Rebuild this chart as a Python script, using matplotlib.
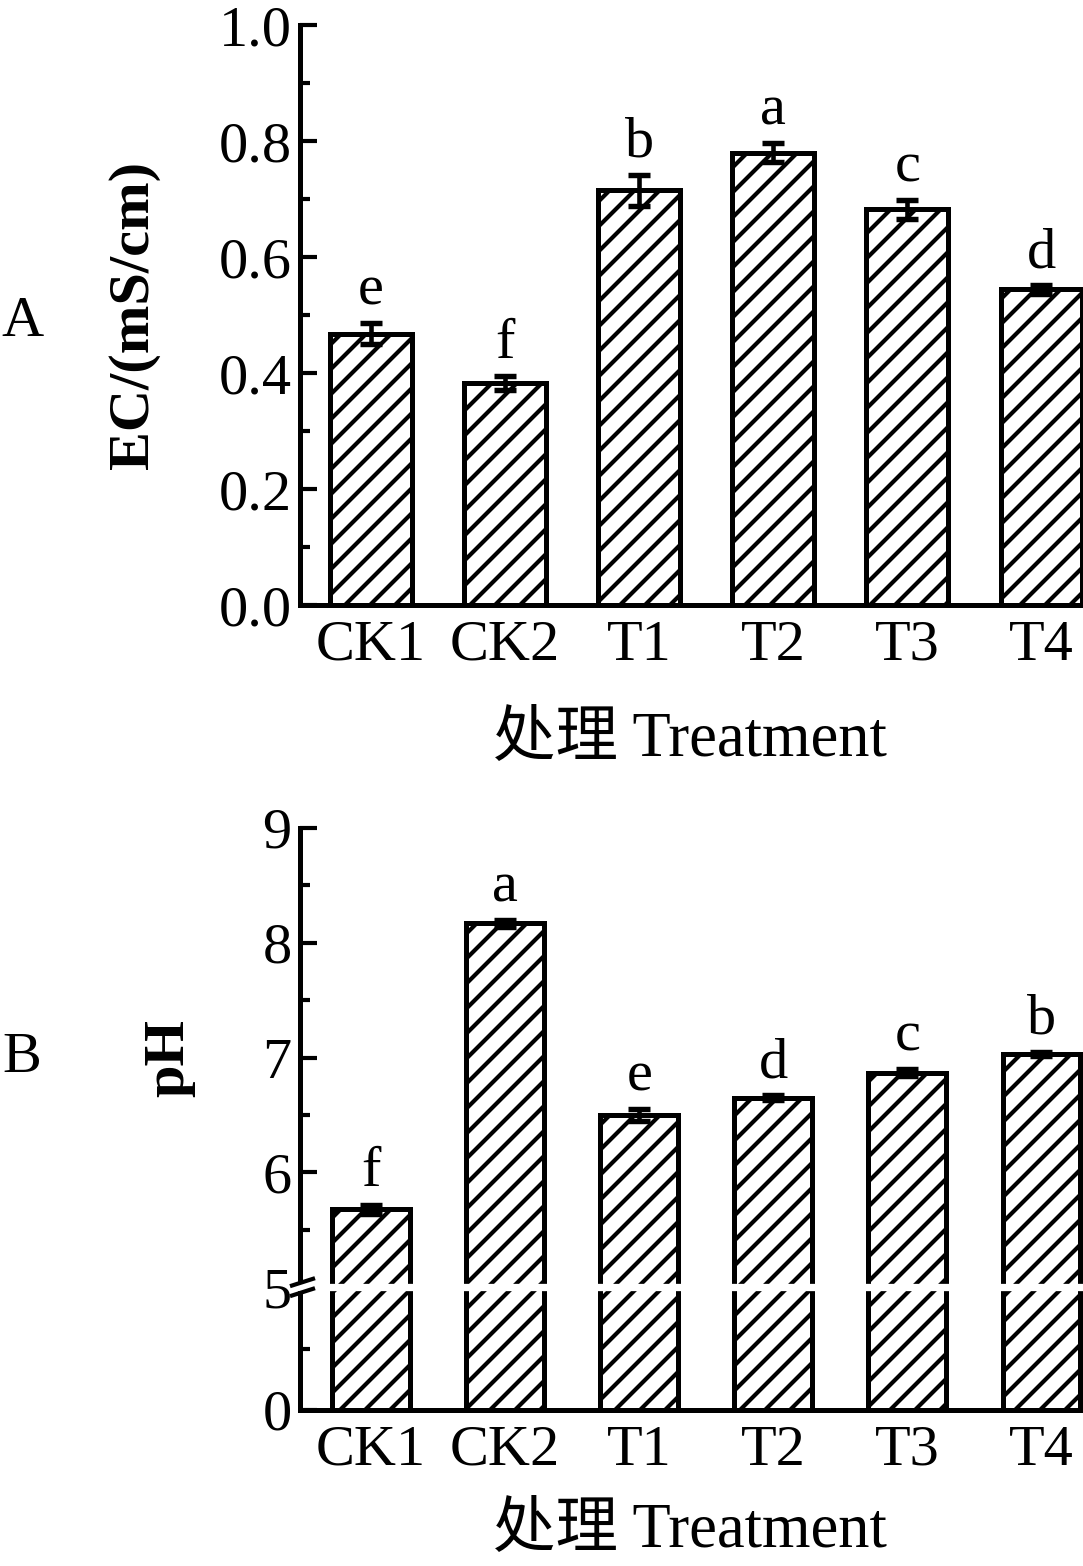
import numpy as np
import matplotlib
matplotlib.use("Agg")
import matplotlib.pyplot as plt
from matplotlib.ticker import FixedLocator, FixedFormatter

plt.rcParams['font.family'] = ['Liberation Serif', 'Noto Sans CJK SC']
plt.rcParams['hatch.linewidth'] = 2.0
plt.rcParams['hatch.color'] = 'black'

# ---------------- data ----------------
categories = ['CK1', 'CK2', 'T1', 'T2', 'T3', 'T4']
ec_values = [0.468, 0.383, 0.715, 0.780, 0.682, 0.544]
ec_errors = [0.018, 0.012, 0.027, 0.017, 0.017, 0.007]
ec_letters = ['e', 'f', 'b', 'a', 'c', 'd']

ph_values = [5.68, 8.17, 6.50, 6.65, 6.87, 7.03]
ph_errors = [0.04, 0.03, 0.05, 0.02, 0.03, 0.02]
ph_letters = ['f', 'a', 'e', 'd', 'c', 'b']

ec_ticks = [0.0, 0.2, 0.4, 0.6, 0.8, 1.0]
ec_minor = [0.1, 0.3, 0.5, 0.7, 0.9]
ph_ticks = [0, 5, 6, 7, 8, 9]
ph_minor = [2.5, 5.5, 6.5, 7.5, 8.5]

DPI = 150
W, H = 1083, 1566
fig = plt.figure(figsize=(W / DPI, H / DPI), dpi=DPI)

FS = 28
LW = 2.4

def style(ax):
    for s in ['top', 'right']:
        ax.spines[s].set_visible(False)
    for s in ['left', 'bottom']:
        ax.spines[s].set_linewidth(LW)
    ax.tick_params(axis='y', which='major', direction='in', length=8, width=2,
                   labelsize=FS, pad=4)
    ax.tick_params(axis='y', which='minor', direction='in', length=5, width=2)
    ax.tick_params(axis='x', which='both', length=0, labelsize=FS, pad=7)

x = np.arange(len(categories))
err_kw = dict(fmt='none', ecolor='black', elinewidth=2.2, capsize=5.5,
              capthick=2.6, zorder=3)

# ---------------- panel A ----------------
axA = fig.add_axes([300 / W, 1 - 605 / H, 783 / W, 580 / H])
axA.bar(x, ec_values, width=0.61, color='white', edgecolor='black',
        linewidth=LW, hatch='//', zorder=2)
axA.errorbar(x, ec_values, yerr=ec_errors, **err_kw)
for xi, v, e, t in zip(x, ec_values, ec_errors, ec_letters):
    axA.annotate(t, (xi, v + e), xytext=(0, 3), textcoords='offset points',
                 ha='center', va='bottom', fontsize=FS)
axA.set_xlim(-0.53, 5.31)
axA.set_ylim(0, 1.0)
axA.set_yticks(ec_ticks)
axA.set_yticklabels([f'{t:.1f}' for t in ec_ticks])
axA.yaxis.set_minor_locator(FixedLocator(ec_minor))
axA.set_xticks(x)
axA.set_xticklabels(categories)
style(axA)
axA.set_ylabel('EC/(mS/cm)', fontsize=FS, fontweight='bold')
axA.yaxis.set_label_coords(-0.179, 0.5)
axA.set_xlabel('处理 Treatment', fontsize=30)
axA.xaxis.set_label_coords(0.498, -0.185)

# ---------------- panel B (broken axis) ----------------
G = 1.07

def fwd(v):
    v = np.asarray(v, dtype=float)
    return np.where(v <= 5, v * G / 5, v - 5 + G)

def inv(u):
    u = np.asarray(u, dtype=float)
    return np.where(u <= G, u * 5 / G, u + 5 - G)

axB = fig.add_axes([300 / W, 1 - 1410 / H, 783 / W, 582 / H])
axB.set_yscale('function', functions=(fwd, inv))
axB.bar(x, ph_values, width=0.58, color='white', edgecolor='black',
        linewidth=LW, hatch='//', zorder=2)
axB.errorbar(x, ph_values, yerr=ph_errors, **err_kw)
for xi, v, e, t in zip(x, ph_values, ph_errors, ph_letters):
    axB.annotate(t, (xi, v + e), xytext=(0, 3), textcoords='offset points',
                 ha='center', va='bottom', fontsize=FS)
axB.set_xlim(-0.53, 5.31)
axB.set_ylim(0, 9)
axB.yaxis.set_major_locator(FixedLocator(ph_ticks))
axB.yaxis.set_major_formatter(FixedFormatter([str(t) for t in ph_ticks]))
axB.yaxis.set_minor_locator(FixedLocator(ph_minor))
axB.yaxis.set_minor_formatter(FixedFormatter([''] * len(ph_minor)))
axB.set_xticks(x)
axB.set_xticklabels(categories)
style(axB)

# white break band at 5
axB.axhline(5, color='white', linewidth=3.5, zorder=5, clip_on=False)
# break marks on y axis (axes coords)
y5 = G / (9 - 5 + G)
px_y = 1 / 582.0
px_x = 1 / 783.0
for c in (-5, 5):
    axB.plot([-10 * px_x, 15 * px_x],
             [y5 + (c - 4) * px_y, y5 + (c + 4) * px_y],
             color='black', linewidth=2.0, transform=axB.transAxes,
             clip_on=False, zorder=6, solid_capstyle='butt')

axB.set_ylabel('pH', fontsize=FS, fontweight='bold')
axB.yaxis.set_label_coords(-0.134, 0.605)
axB.set_xlabel('处理 Treatment', fontsize=30)
axB.xaxis.set_label_coords(0.498, -0.16)

fig.text(22 / W, 1 - 322 / H, 'A', fontsize=FS, ha='center', va='center')
fig.text(22 / W, 1 - 1058 / H, 'B', fontsize=FS, ha='center', va='center')

fig.savefig('out.png', dpi=DPI)
